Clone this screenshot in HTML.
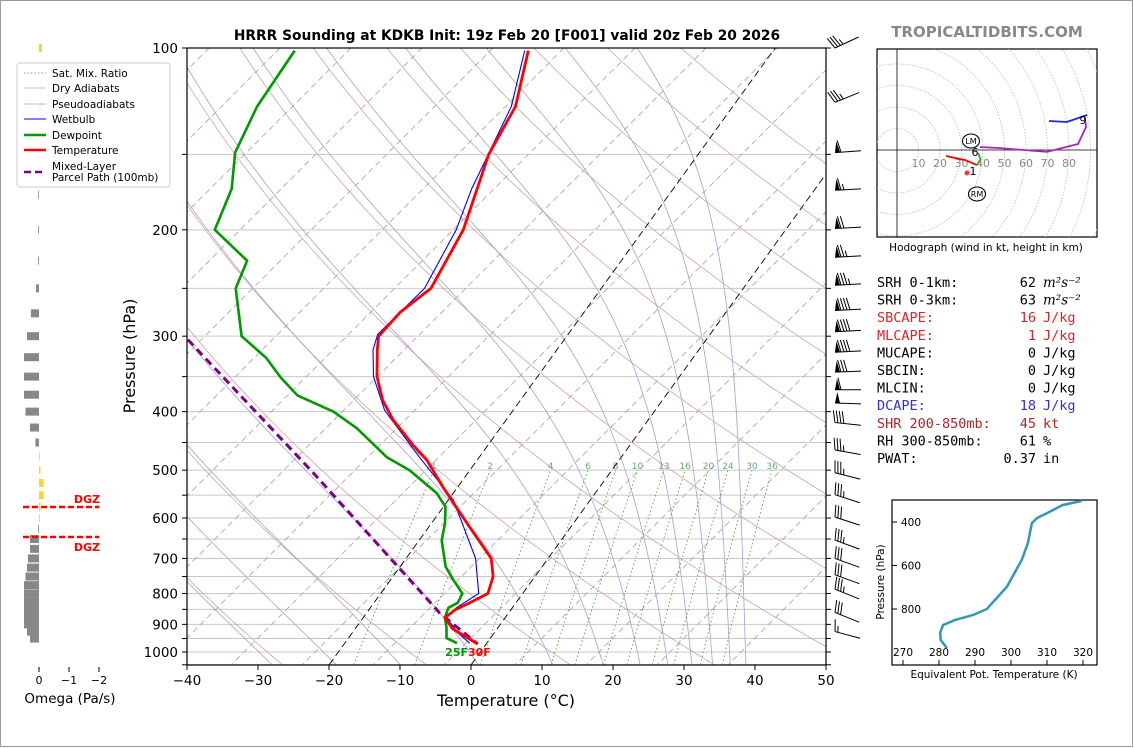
<!DOCTYPE html>
<html><head><meta charset="utf-8"><style>
html,body{margin:0;padding:0;background:#fff;}
svg{display:block;font-family:"DejaVu Sans","Liberation Sans",sans-serif;}
</style></head><body>
<svg id="fig" width="1134" height="748" viewBox="0 0 1134 748" xmlns="http://www.w3.org/2000/svg">
<defs>
<clipPath id="mainClip"><rect x="187" y="48" width="639" height="617"/></clipPath>
<clipPath id="hodoClip"><rect x="877" y="49" width="220" height="188"/></clipPath>
<clipPath id="teClip"><rect x="892" y="500" width="205" height="165"/></clipPath>
</defs>
<rect x="0.5" y="0.5" width="1132" height="746" fill="#fff" stroke="#999"/>
<text x="507" y="40" text-anchor="middle" font-size="13.8" font-weight="bold">HRRR Sounding at KDKB Init: 19z Feb 20 [F001] valid 20z Feb 20 2026</text>
<text x="987" y="37" text-anchor="middle" font-size="15" font-weight="bold" fill="#888">TROPICALTIDBITS.COM</text>
<g id="bg" clip-path="url(#mainClip)"></g>
<g id="series" clip-path="url(#mainClip)"></g>
<g id="axes"></g>
<g id="barbs"></g>
<g id="omega"></g>
<g id="legend"></g>
<g id="hodo"></g>
<g id="stats"></g>
<g id="te"></g>
</svg>
<script>
// ---- Sounding data (pressure hPa, temperature °C) ----
const tempP=[101,125,150,200,250,274,300,316,350,383,413,454,481,533,612,700,750,800,829,850,877,915,970];
const tempT=[-54.5,-50.6,-49.5,-45.4,-44.0,-45.9,-46.5,-45.3,-42.6,-39.4,-35.9,-30.6,-27.1,-22.1,-15,-8,-5.9,-4.9,-6.5,-7.8,-8.5,-6.3,-1.2];
const dewP=[101,125,149,171,200,225,250,300,326,351,376,400,426,476,500,546,575,612,654,722,759,800,829,845,877,910,948,967];
const dewT=[-87.4,-87,-85.4,-82.2,-80.4,-72.7,-71.5,-65.8,-60.1,-56.1,-51.9,-45.2,-40.2,-33,-28.5,-22.3,-19.7,-18.1,-16.8,-13.6,-11.2,-8.5,-8.2,-9,-8.5,-7.3,-6.2,-4.2];
const wbP=[101,125,171,200,250,298,316,350,398,476,560,700,800,845,877,930,967];
const wbT=[-55,-51.2,-48.4,-46.4,-44.9,-46.8,-45.9,-43.1,-38.1,-28.4,-19.3,-10.2,-6.2,-7.9,-8.3,-5.1,-2.4];
const parcelP=[304,505,862,970];
const parcelT=[-73,-41.8,-9.7,-1.2];
// wind barbs
const barbP=[100,123,149,172,199,222,247,272,295,319,344,368,387,417,463,505,549,598,653,700,745,787,860,925];
const barbSpd=[35,35,60,65,70,75,85,90,90,90,80,60,50,40,35,35,35,30,35,30,30,35,30,15];
const barbAng=[-25,-22,-4,-3,-3,-3,-3,-3,-3,-3,-2,0,2,6,10,14,18,18,20,20,20,22,22,15];
// omega (Pa/s)
const omegaP=[100,125,150,175,200,225,250,275,300,325,350,375,400,425,450,475,500,525,550,575,600,625,650,675,700,725,750,775,800,825,850,875,900,925,950];
const omegaV=[-0.1,-0.1,0.01,0.01,0.01,0.03,0.1,0.27,0.4,0.5,0.5,0.5,0.45,0.3,0.12,-0.02,-0.05,-0.15,-0.15,-0.05,-0.02,0.03,0.3,0.3,0.37,0.4,0.45,0.5,0.5,0.5,0.5,0.5,0.5,0.4,0.3];
// hodograph (kt)
const hodoRedU=[22.8,31.6,37.2], hodoRedV=[-2.8,-4.7,-7.0];
const hodoGreenU=[37.2,38.9,37.7], hodoGreenV=[-7.0,-4.2,-1.4];
const hodoPurpU=[38.6,47.9,69.8,84.2,87.9,87.4], hodoPurpV=[1.4,0.9,-0.9,2.8,10.7,15.3];
const hodoBlueU=[70.7,79,88.4], hodoBlueV=[13.5,13,16.3];
// theta-e profile
const teP=[303,322,359,382,405,496,574,697,800,828,851,874,911,943,980];
const teK=[319.7,314.4,310,307.2,305.8,304.7,303,298.9,293.3,289.4,284.4,281.1,280.3,280.5,282.2];
const mixRatios=[1,2,4,6,8,10,13,16,20,24,30,36];
const moistStarts=[-28,-19,-10,1,11.5,18.6,23.8,27.7,31.1,34,36.5,38.7];
const tempTicks=[-40,-30,-20,-10,0,10,20,30,40,50];
const presLabels=[100,200,300,400,500,600,700,800,900,1000];

const NS="http://www.w3.org/2000/svg";
function mk(tag,attrs,parent){const e=document.createElementNS(NS,tag);for(const k in attrs)e.setAttribute(k,attrs[k]);parent.appendChild(e);return e;}
const Y=p=>48+604*Math.log10(p/100);
const X=(T,p)=>187+(T+40)*7.1+(665-Y(p))*0.723;
const bg=document.getElementById('bg'),ser=document.getElementById('series'),ax=document.getElementById('axes');
function poly(ps,ts){return ps.map((p,i)=>X(ts[i],p).toFixed(1)+','+Y(p).toFixed(1)).join(' ');}

for(let p=150;p<=1050;p+=50){
  const l=mk('line',{x1:187,x2:826,y1:Y(p),y2:Y(p),stroke:'#c8c8c8','stroke-width':1},bg);
  
  
}
for(let k=-12;k<=15;k++){
  const x0=280+71*k;
  const l=mk('line',{x1:x0,y1:48,x2:x0-617,y2:665,stroke:'#aaa','stroke-width':0.9,'stroke-dasharray':'6,4'},bg);
  
  
}
for(let t0=-30;t0<=200;t0+=20){
  const th=t0+273.15;const pts=[];
  for(let p=1050;p>=100;p-=10){pts.push(X(th*Math.pow(p/1000,0.2857)-273.15,p).toFixed(1)+','+Y(p).toFixed(1));}
  const l=mk('polyline',{points:pts.join(' '),fill:'none',stroke:'#d9a0a0','stroke-width':0.8},bg);
  
  
}
function es(T){return 6.112*Math.exp(17.67*T/(T+243.5));}
function dTdp(Tc,p){const T=Tc+273.15,e=es(Tc),rs=0.622*e/(p-e),Lv=2.501e6,Rd=287.04,cp=1005.7;
  return (1/p)*(Rd*T+Lv*rs)/(cp+Lv*Lv*rs*0.622/(Rd*T*T));}
moistStarts.forEach(t0=>{
  let T=t0,pts=[X(t0,1050).toFixed(1)+','+Y(1050).toFixed(1)];
  for(let p=1050;p>100;p-=5){T-=dTdp(T,p)*5;pts.push(X(T,p-5).toFixed(1)+','+Y(p-5).toFixed(1));}
  const l=mk('polyline',{points:pts.join(' '),fill:'none',stroke:'#a0a0dd','stroke-width':0.8},bg);
  
  
});
function tdFromW(w,p){const e=w*p/(622+w);const a=Math.log(e/6.112);return 243.5*a/(17.67-a);}
mixRatios.forEach(w=>{
  const pts=[];for(let p=1050;p>=500;p-=25)pts.push(X(tdFromW(w,p),p).toFixed(1)+','+Y(p).toFixed(1));
  const l=mk('polyline',{points:pts.join(' '),fill:'none',stroke:'#3a9a3a','stroke-width':0.8,'stroke-dasharray':'1.5,2.5'},bg);
  
  
  const t=mk('text',{x:X(tdFromW(w,500),500),y:469,'text-anchor':'middle','font-size':9,fill:'#6aaa6a'},bg);
  t.textContent=w;
  
  
});
[0,-20].forEach(T=>{
  const l=mk('line',{x1:X(T,1050),y1:Y(1050),x2:X(T,100),y2:Y(100),stroke:'#000','stroke-width':0.9,'stroke-dasharray':'7,4'},bg);
  
  
});
let e;
e=mk('polyline',{points:poly(parcelP,parcelT),fill:'none',stroke:'#800080','stroke-width':3,'stroke-dasharray':'8,5'},ser);


e=mk('polyline',{points:poly(dewP,dewT),fill:'none',stroke:'#009900','stroke-width':2.6,'stroke-linejoin':'round'},ser);


e=mk('polyline',{points:poly(wbP,wbT),fill:'none',stroke:'#0000ff','stroke-width':1.1},ser);


e=mk('polyline',{points:poly(tempP,tempT),fill:'none',stroke:'#ff0000','stroke-width':2.8,'stroke-linejoin':'round'},ser);


e=mk('text',{x:468,y:656,'text-anchor':'end','font-size':11,'font-weight':'bold',fill:'#009900'},ser);e.textContent='25F';


e=mk('text',{x:468,y:656,'text-anchor':'start','font-size':11,'font-weight':'bold',fill:'#ff0000'},ser);e.textContent='30F';


e=mk('rect',{x:187,y:48,width:639,height:617,fill:'none',stroke:'#000','stroke-width':1.2},ax);


for(let p=100;p<=1050;p+=50){
  mk('line',{x1:182,x2:187,y1:Y(p),y2:Y(p),stroke:'#000'},ax);
  mk('line',{x1:826,x2:831,y1:Y(p),y2:Y(p),stroke:'#000'},ax);
}
presLabels.forEach(p=>{const t=mk('text',{x:178,y:Y(p)+5,'text-anchor':'end','font-size':13.5},ax);t.textContent=p;
  
  });
tempTicks.forEach(T=>{const x=187+(T+40)*7.1;mk('line',{x1:x,x2:x,y1:665,y2:670,stroke:'#000'},ax);
  const t=mk('text',{x:x,y:685,'text-anchor':'middle','font-size':13.5},ax);t.textContent=(T<0?'\u2212':'')+Math.abs(T);
  
  });
e=mk('text',{x:506,y:706,'text-anchor':'middle','font-size':16},ax);e.textContent='Temperature (°C)';


e=mk('text',{x:135,y:356,'text-anchor':'middle','font-size':16,transform:'rotate(-90 135 356)'},ax);e.textContent='Pressure (hPa)';


const bb=document.getElementById('barbs');
barbP.forEach((p,i)=>{
  const g=mk('g',{},bb);
  
  
  const y=Y(p),x0=835,a=barbAng[i]*Math.PI/180,L=26,cx=Math.cos(a),sy=Math.sin(a);
  mk('line',{x1:x0,y1:y,x2:x0+L*cx,y2:y+L*sy,stroke:'#000','stroke-width':1},g);
  let s=barbSpd[i],pos=0;
  const px=-sy,py=cx;
  while(s>=50){const bx=x0+pos*cx,by=y+pos*sy;
    mk('polygon',{points:`${bx},${by} ${bx+2*cx-11*px},${by+2*sy-11*py} ${bx+5*cx},${by+5*sy}`,fill:'#000'},g);pos+=6;s-=50;}
  while(s>=10){const bx=x0+pos*cx,by=y+pos*sy;
    mk('line',{x1:bx,y1:by,x2:bx-3*cx-12*px,y2:by-3*sy-12*py,stroke:'#000','stroke-width':1},g);pos+=3;s-=10;}
  if(s>=5){const bx=x0+pos*cx,by=y+pos*sy;
    mk('line',{x1:bx,y1:by,x2:bx-1.5*cx-6*px,y2:by-1.5*sy-6*py,stroke:'#000','stroke-width':1},g);}
});
const om=document.getElementById('omega');
omegaP.forEach((p,i)=>{const v=omegaV[i],y=Y(p),w=Math.max(Math.abs(v)*30,0.8);
  const r=mk('rect',{x:v>0?39-w:39,y:y-4,width:w,height:8,fill:v>0?'#888':'#f8d820'},om);
  
  });
[[0,39],[-1,69],[-2,99]].forEach(([v,x])=>{mk('line',{x1:x,x2:x,y1:667,y2:672,stroke:'#000'},om);
  const t=mk('text',{x:x,y:684,'text-anchor':'middle','font-size':11},om);t.textContent=v===0?'0':'\u2212'+(-v);
  
  });
e=mk('text',{x:70,y:703,'text-anchor':'middle','font-size':13.5},om);e.textContent='Omega (Pa/s)';


[507,537].forEach((y,i)=>{const l=mk('line',{x1:23,x2:99,y1:y,y2:y,stroke:'#ff0000','stroke-width':2.5,'stroke-dasharray':'6,3'},om);
  
  
  const t=mk('text',{x:100,y:i?551:503,'text-anchor':'end','font-size':11,'font-weight':'bold',fill:'#ff0000'},om);t.textContent='DGZ';
  
  });
const lg=document.getElementById('legend');
mk('rect',{x:17,y:63,width:153,height:124,rx:3,fill:'#fff','fill-opacity':0.85,stroke:'#ccc'},lg);
const leg=[['Sat. Mix. Ratio','#3a9a3a',0.8,'1.5,2'],['Dry Adiabats','#d9a0a0',0.8,''],['Pseudoadiabats','#a0a0dd',0.8,''],['Wetbulb','#0000ff',1,''],['Dewpoint','#009900',2.6,''],['Temperature','#ff0000',2.6,''],['Mixed-Layer','#800080',2.6,'7,4']];
const ly=[73,88,104,119,135,150,166];
leg.forEach((d,i)=>{const g=mk('g',{},lg);
  
  
  const yy=i===6?172:ly[i];
  mk('line',{x1:24,x2:46,y1:yy,y2:yy,stroke:d[1],'stroke-width':d[2],'stroke-dasharray':d[3]},g);
  const t=mk('text',{x:52,y:ly[i]+4,'font-size':10.5},g);t.textContent=d[0];});
e=mk('text',{x:52,y:181,'font-size':10.5},lg);e.textContent='Parcel Path (100mb)';


const hd=document.getElementById('hodo');
const HX=u=>897+u*2.15,HY=v=>150-v*2.15;
mk('rect',{x:877,y:49,width:220,height:188,fill:'#fff',stroke:'#000','stroke-width':1.2},hd);
const hc=mk('g',{'clip-path':'url(#hodoClip)'},hd);
for(let k=1;k<=11;k++)mk('circle',{cx:897,cy:150,r:21.5*k,fill:'none',stroke:'#bbb','stroke-width':0.8,'stroke-dasharray':'1.5,1.5'},hc);
mk('line',{x1:897,x2:897,y1:49,y2:237,stroke:'#000','stroke-width':0.8},hc);
mk('line',{x1:877,x2:1097,y1:150,y2:150,stroke:'#000','stroke-width':0.8},hc);
for(let k=1;k<=8;k++){const t=mk('text',{x:HX(10*k),y:167,'text-anchor':'middle','font-size':11,fill:'#888'},hc);t.textContent=10*k;
  
  }
[[hodoRedU,hodoRedV,'#ff0000','hodo-0-1km'],[hodoGreenU,hodoGreenV,'#33aa33','hodo-3-6km'],[hodoPurpU,hodoPurpV,'#aa22bb','hodo-6-9km'],[hodoBlueU,hodoBlueV,'#2222ff','hodo-9km-plus']].forEach(s=>{
  const l=mk('polyline',{points:s[0].map((u,i)=>HX(u).toFixed(1)+','+HY(s[1][i]).toFixed(1)).join(' '),fill:'none',stroke:s[2],'stroke-width':1.8},hc);
  
  });
mk('circle',{cx:967,cy:173,r:2.5,fill:'#ff3333'},hc);
[['1',973,175],['6',975,156],['9',1083,124]].forEach(d=>{const t=mk('text',{x:d[1],y:d[2],'text-anchor':'middle','font-size':11},hc);t.textContent=d[0];
  
  });
[['LM',971,141],['RM',977,194]].forEach(d=>{const g=mk('g',{},hc);
  
  
  mk('ellipse',{cx:d[1],cy:d[2],rx:8.5,ry:7,fill:'#fff',stroke:'#000','stroke-width':1.1},g);
  const t=mk('text',{x:d[1],y:d[2]+3,'text-anchor':'middle','font-size':8},g);t.textContent=d[0];});
e=mk('text',{x:986,y:251,'text-anchor':'middle','font-size':10.5},hd);e.textContent='Hodograph (wind in kt, height in km)';


const st=document.getElementById('stats');
const rows=[['SRH 0-1km:','62','m²s⁻²','#000'],['SRH 0-3km:','63','m²s⁻²','#000'],['SBCAPE:','16','J/kg','#d62728'],['MLCAPE:','1','J/kg','#d62728'],['MUCAPE:','0','J/kg','#000'],['SBCIN:','0','J/kg','#000'],['MLCIN:','0','J/kg','#000'],['DCAPE:','18','J/kg','#3333cc'],['SHR 200-850mb:','45','kt','#a52a2a'],['RH 300-850mb:','61','%','#000'],['PWAT:','0.37','in','#000']];
rows.forEach((r,i)=>{const y=287+i*17.6;const g=mk('g',{'font-family':'"DejaVu Sans Mono","Liberation Mono",monospace','font-size':13.5,fill:r[3]},st);
  
  
  let t=mk('text',{x:877,y:y},g);t.textContent=r[0];
  t=mk('text',{x:1036,y:y,'text-anchor':'end'},g);t.textContent=r[1];
  t=mk('text',{x:1043,y:y,'font-style':i<2?'italic':'normal','font-family':i<2?'"DejaVu Serif",serif':'inherit'},g);t.textContent=r[2];});
const te=document.getElementById('te');
const TX=k=>903+(k-270)*3.6,TY=p=>522+(p-400)*0.2175;
mk('rect',{x:892,y:500,width:205,height:165,fill:'#fff',stroke:'#000','stroke-width':1.2},te);
[400,600,800].forEach(p=>{mk('line',{x1:892,x2:897,y1:TY(p),y2:TY(p),stroke:'#000'},te);
  const t=mk('text',{x:901,y:TY(p)+4,'font-size':10.5},te);t.textContent=p;
  
  });
[270,280,290,300,310,320].forEach(k=>{mk('line',{x1:TX(k),x2:TX(k),y1:665,y2:660,stroke:'#000'},te);
  const t=mk('text',{x:TX(k),y:656,'text-anchor':'middle','font-size':10.5},te);t.textContent=k;
  
  });
e=mk('polyline',{points:teP.map((p,i)=>TX(teK[i]).toFixed(1)+','+TY(p).toFixed(1)).join(' '),fill:'none',stroke:'#3399b3','stroke-width':2.5,'clip-path':'url(#teClip)'},te);


e=mk('text',{x:994,y:678,'text-anchor':'middle','font-size':10.5},te);e.textContent='Equivalent Pot. Temperature (K)';


e=mk('text',{x:884,y:582,'text-anchor':'middle','font-size':10.5,transform:'rotate(-90 884 582)'},te);e.textContent='Pressure (hPa)';


</script>
</body></html>
